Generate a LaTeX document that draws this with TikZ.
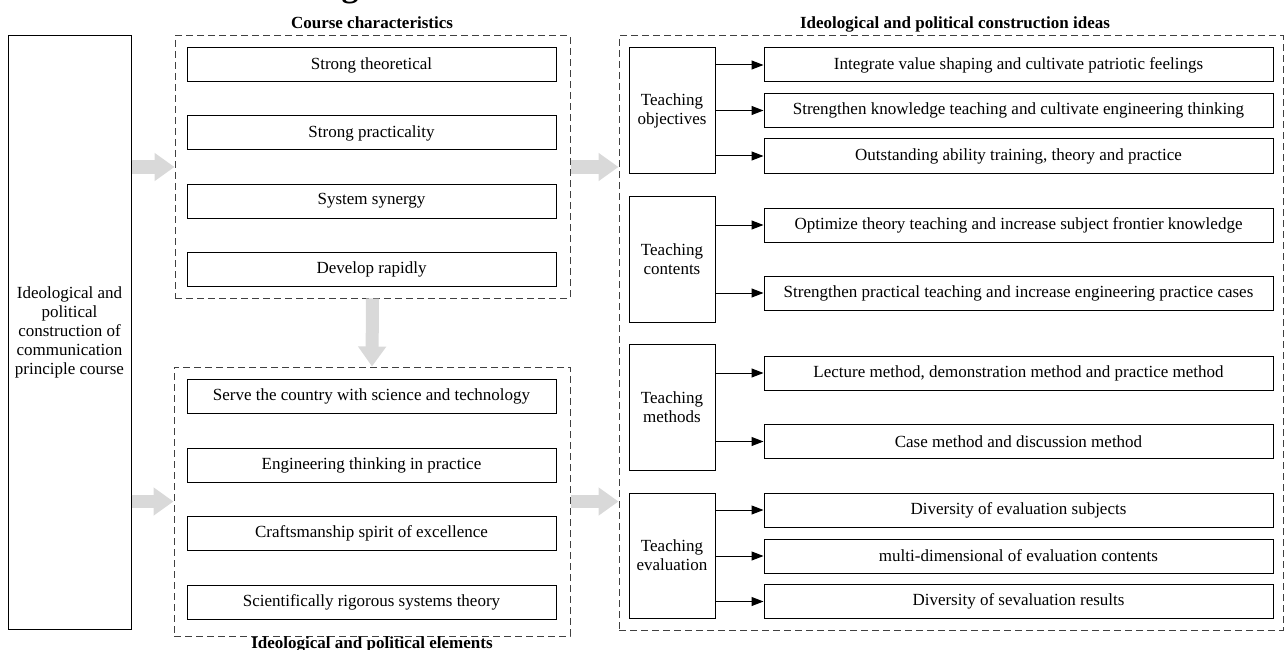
\documentclass[tikz,border=0pt]{standalone}
\usepackage{fontspec}
\setmainfont{Liberation Serif}
\usetikzlibrary{arrows.meta}
\tikzset{box/.style={draw,line width=1pt,inner sep=0pt,minimum height=34pt,
        font=\fontsize{17pt}{19pt}\selectfont},
    itembox/.style={box,minimum width=369pt},
    ideabox/.style={box,minimum width=509pt},
    stagebox/.style={box,minimum width=86pt,minimum height=125pt,align=center},
    group/.style={draw=black!75,dash pattern=on 7pt off 4pt,line width=1pt,inner sep=0pt},
    heading/.style={font=\bfseries\fontsize{17pt}{19pt}\selectfont,anchor=base,inner sep=0pt},
    bigarrow/.style={draw=gray!30,line width=13pt,-{Triangle[length=20pt,width=27pt]}},
    thinarrow/.style={draw,line width=1pt,-{Triangle[length=12pt,width=9pt]}}}

\begin{document}
\begin{tikzpicture}[x=1pt,y=-1pt]
\useasboundingbox (0,0) rectangle (1285,650);
% cut title
\node[heading,font=\bfseries\fontsize{34pt}{36pt}\selectfont] (cut) at (350,-3) {g};
% left
\node[box,minimum width=123pt,minimum height=593pt,align=center] (course) at (69.5,332.5)
    {Ideological and\\political\\construction of\\communication\\principle course};
% course characteristics
\node[group,minimum width=395pt,minimum height=262pt] (chars) at (372.5,167) {};
\node[heading] (charstitle) at (372,29) {Course characteristics};
\node[itembox] (c1) at (371.5,65) {Strong theoretical};
\node[itembox] (c2) at (371.5,133) {Strong practicality};
\node[itembox] (c3) at (371.5,201) {System synergy};
\node[itembox] (c4) at (371.5,269) {Develop rapidly};
% elements
\node[group,minimum width=396pt,minimum height=269pt] (elems) at (372,501.5) {};
\node[heading] (elemstitle) at (372,648) {Ideological and political elements};
\node[itembox] (e1) at (371.5,396) {Serve the country with science and technology};
\node[itembox] (e2) at (371.5,465) {Engineering thinking in practice};
\node[itembox] (e3) at (371.5,533) {Craftsmanship spirit of excellence};
\node[itembox] (e4) at (371.5,602) {Scientifically rigorous systems theory};
% construction ideas
\node[group,minimum width=664pt,minimum height=594pt] (ideas) at (951,333) {};
\node[heading] (ideastitle) at (955,29) {Ideological and political construction ideas};
\node[stagebox] (obj) at (672,110.5) {Teaching\\objectives};
\node[stagebox,minimum height=126pt] (cont) at (672,259) {Teaching\\contents};
\node[stagebox,minimum height=126pt] (meth) at (672,407) {Teaching\\methods};
\node[stagebox] (eval) at (672,555.5) {Teaching\\evaluation};
\node[ideabox] (o1) at (1018.5,65) {Integrate value shaping and cultivate patriotic feelings};
\node[ideabox] (o2) at (1018.5,110.5) {Strengthen knowledge teaching and cultivate engineering thinking};
\node[ideabox] (o3) at (1018.5,156) {Outstanding ability training, theory and practice};
\node[ideabox] (n1) at (1018.5,225) {Optimize theory teaching and increase subject frontier knowledge};
\node[ideabox] (n2) at (1018.5,293) {Strengthen practical teaching and increase engineering practice cases};
\node[ideabox] (m1) at (1018.5,373) {Lecture method, demonstration method and practice method};
\node[ideabox] (m2) at (1018.5,441.5) {Case method and discussion method};
\node[ideabox] (v1) at (1018.5,510) {Diversity of evaluation subjects};
\node[ideabox] (v2) at (1018.5,556) {multi-dimensional of evaluation contents};
\node[ideabox] (v3) at (1018.5,601.5) {Diversity of sevaluation results};
% grey arrows
\draw[bigarrow] (course.east |- chars.west) -- (chars.west);
\draw[bigarrow] (course.east |- elems.west) -- (elems.west);
\draw[bigarrow] (chars.south) -- (elems.north);
\draw[bigarrow] (chars.east) -- (ideas.west |- chars.east);
\draw[bigarrow] (elems.east) -- (ideas.west |- elems.east);
% black arrows
\foreach \s/\t in {obj/o1,obj/o2,obj/o3,cont/n1,cont/n2,meth/m1,meth/m2,eval/v1,eval/v2,eval/v3}
    \draw[thinarrow] (\s.east |- \t.west) -- (\t.west);
\end{tikzpicture}
\end{document}
